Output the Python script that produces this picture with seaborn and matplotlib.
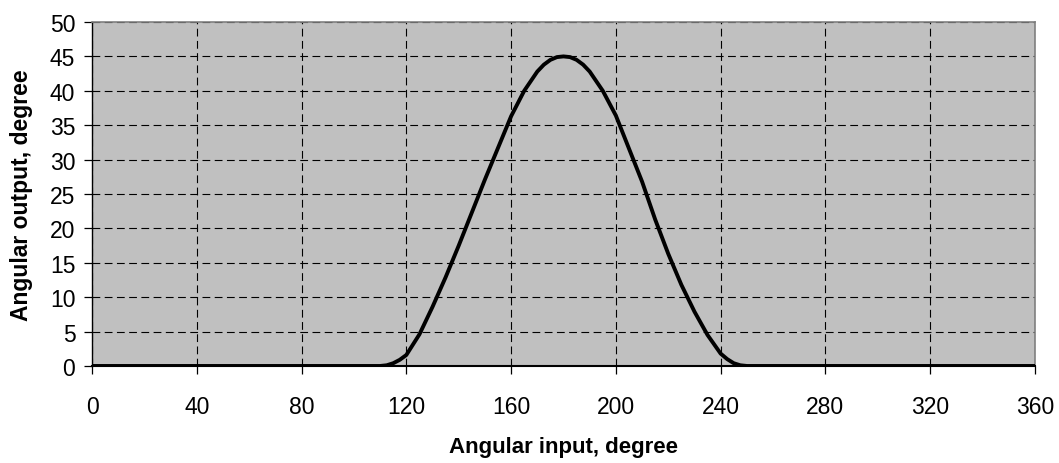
import matplotlib
matplotlib.use("Agg")
import matplotlib.pyplot as plt
import seaborn as sns
import pandas as pd

# Values
angle_in = [0, 40, 80, 100, 105, 110, 112.5, 115, 117.5, 120, 125, 130, 135,
            140, 145, 150, 155, 160, 165, 170, 172.5, 175, 177.5, 180, 182.5,
            185, 187.5, 190, 195, 200, 205, 210, 215, 220, 225, 230, 235, 240,
            242.5, 245, 247.5, 250, 255, 260, 280, 320, 360]
angle_out = [0, 0, 0, 0, 0, 0, 0.1, 0.4, 0.9, 1.6, 4.6, 8.6, 12.9,
             17.5, 22.3, 27.1, 31.7, 36.3, 40.0, 42.8, 43.8, 44.5, 44.9, 45.0,
             44.9, 44.5, 43.8, 42.8, 40.0, 36.4, 31.6, 26.8, 21.3, 16.3, 11.8,
             7.9, 4.5, 1.8, 1.0, 0.4, 0.1, 0, 0, 0, 0, 0, 0]
x_ticks = list(range(0, 361, 40))
y_ticks = list(range(0, 51, 5))

df = pd.DataFrame({"input": angle_in, "output": angle_out})

sns.set_style("ticks")
plt.rcParams["font.family"] = ["Liberation Sans", "DejaVu Sans"]
plt.rcParams["text.color"] = "black"
plt.rcParams["axes.labelcolor"] = "black"
plt.rcParams["xtick.color"] = "black"
plt.rcParams["ytick.color"] = "black"

fig = plt.figure(figsize=(10.59, 4.64), dpi=100)
ax = fig.add_axes([0.0869, 0.2091, 0.8904, 0.7413])
ax.set_facecolor("#c0c0c0")

sns.lineplot(data=df, x="input", y="output", color="black", linewidth=2.8,
             ax=ax, zorder=3)

ax.set_xlim(0, 360)
ax.set_ylim(0, 50)
ax.set_xticks(x_ticks)
ax.set_yticks(y_ticks)
ax.grid(True, color="black", linewidth=0.8, linestyle=(0, (7, 4)))
ax.set_axisbelow(True)

for side in ["top", "right"]:
    ax.spines[side].set_color("#808080")
    ax.spines[side].set_linewidth(1.2)
ax.spines["left"].set_color("black")
ax.spines["left"].set_linewidth(1.0)
ax.spines["bottom"].set_color("black")
ax.spines["bottom"].set_linewidth(1.5)

ax.tick_params(axis="both", direction="out", length=6, width=0.9,
               color="black", labelcolor="black", labelsize=16.5)
ax.tick_params(axis="x", pad=15)
ax.tick_params(axis="y", pad=6)

ax.set_xlabel("Angular input, degree", fontsize=16, fontweight="bold",
              labelpad=13)
ax.set_ylabel("Angular output, degree", fontsize=16.5, fontweight="bold",
              labelpad=12)

fig.savefig("out.png", dpi=100)
